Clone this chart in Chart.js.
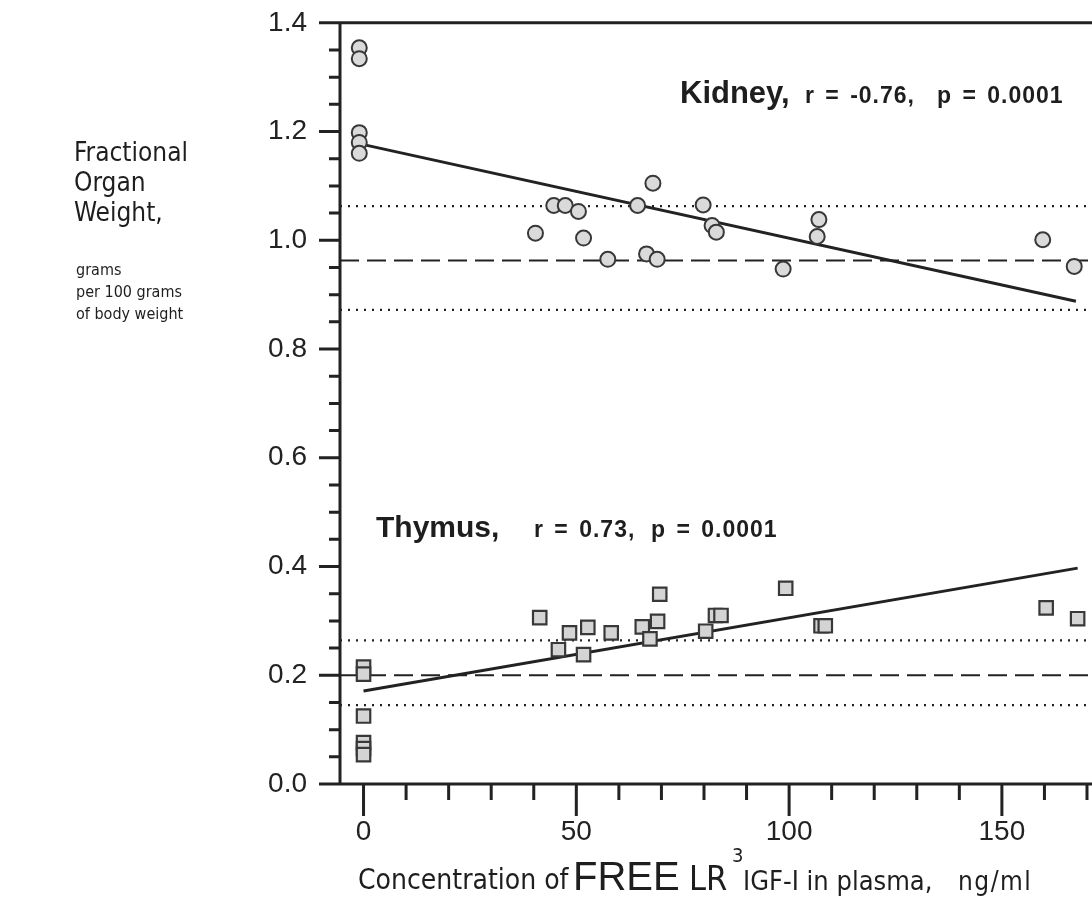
<!DOCTYPE html>
<html>
<head>
<meta charset="utf-8">
<script src="https://cdn.jsdelivr.net/npm/chart.js@4.4.1/dist/chart.umd.min.js"></script>
<style>
  html, body { margin: 0; padding: 0; background: #fff; }
  #wrap { position: relative; width: 1092px; height: 918px; overflow: hidden; }
  /* canvas a bit larger than the page: the scales keep a margin top/right of the plot */
  #grafico { position: absolute; left: 0; top: -27px; }
  .t { position: absolute; white-space: nowrap; color: #1e1e1e; line-height: 1; }
  .narrow { font-family: "Liberation Sans Narrow", "DejaVu Sans Condensed", "Liberation Sans", sans-serif; }
  .sans { font-family: "Liberation Sans", Arial, sans-serif; }
  .bold { font-family: "Liberation Sans", Arial, sans-serif; font-weight: bold; }
  .stat { font-size: 23px; letter-spacing: 1px; word-spacing: 3px; }
</style>
</head>
<body>
<div id="wrap">
  <canvas id="grafico" width="1118" height="945"></canvas>

  <!-- Y axis label -->
  <div class="t narrow" style="left:74px; top:137px; font-size:26px; line-height:30px;">Fractional<br>Organ<br>Weight,</div>
  <div class="t narrow" style="left:76px; top:259px; font-size:16px; line-height:22px;">grams<br>per 100 grams<br>of body weight</div>

  <!-- Annotations -->
  <div class="t bold" style="left:680px; top:77px; font-size:31px;">Kidney,</div>
  <div class="t bold stat" style="left:805px; top:84px;">r = -0.76,</div>
  <div class="t bold stat" style="left:937px; top:84px;">p = 0.0001</div>
  <div class="t bold" style="left:376px; top:512px; font-size:30px;">Thymus,</div>
  <div class="t bold stat" style="left:534px; top:518px;">r = 0.73,</div>
  <div class="t bold stat" style="left:651px; top:518px;">p = 0.0001</div>

  <!-- X axis title, pieces share the baseline y = 890 -->
  <div class="t narrow" style="left:358px; top:866px; font-size:28px;">Concentration of</div>
  <div class="t sans"   style="left:573px; top:856px; font-size:40px;">FREE</div>
  <div class="t narrow" style="left:689px; top:861px; font-size:34px;">LR</div>
  <div class="t narrow" style="left:732px; top:845px; font-size:20px;">3</div>
  <div class="t narrow" style="left:743px; top:867px; font-size:27px;">IGF-I in plasma,</div>
  <div class="t narrow" style="left:958px; top:868px; font-size:26px; letter-spacing:1.5px;">ng/ml</div>
</div>

<script>
// ============================================================================
// Fractional organ weight vs. free LR3IGF-I in plasma (Kidney / Thymus)
// ============================================================================

// 1. Data
const xBounds = [-5.53, 171.4];   // axis range, ng/ml
const yBounds = [0, 1.4];         // axis range, g per 100 g

const kidneyX = [-1, -1, -1, -1, -1, 40.4, 44.7, 47.4, 50.5, 51.7, 57.4, 64.4, 66.5, 69.0, 68.0, 79.8, 81.9, 82.9, 98.6, 107.0, 106.6, 159.6, 167.0];
const kidneyY = [1.354, 1.334, 1.198, 1.180, 1.160, 1.013, 1.064, 1.064, 1.053, 1.004, 0.965, 1.064, 0.975, 0.965, 1.105, 1.065, 1.027, 1.015, 0.947, 1.038, 1.007, 1.001, 0.952];

const thymusX = [0, 0, 0, 0, 0, 0, 41.4, 45.8, 48.4, 51.7, 52.7, 58.2, 65.5, 67.3, 69.1, 69.6, 80.4, 82.7, 84.0, 99.2, 107.5, 108.5, 160.4, 167.8];
const thymusY = [0.215, 0.202, 0.125, 0.076, 0.065, 0.054, 0.306, 0.247, 0.278, 0.238, 0.288, 0.278, 0.289, 0.267, 0.299, 0.349, 0.281, 0.310, 0.310, 0.360, 0.291, 0.291, 0.324, 0.304];

// regression lines (end points)
const kidneyFitX = [0, 167.4];
const kidneyFitY = [1.176, 0.888];
const thymusFitX = [0, 167.8];
const thymusFitY = [0.171, 0.397];

// mean (dashed) and band (dotted) reference levels
const kidneyRef = { mean: 0.963, upper: 1.063, lower: 0.872 };
const thymusRef = { mean: 0.200, upper: 0.264, lower: 0.145 };

// 2. Helpers
const INK = '#222';
const pts = (xs, ys) => xs.map((x, i) => ({ x, y: ys[i] }));
const hline = v => [{ x: xBounds[0], y: v }, { x: xBounds[1], y: v }];
const esMayorY = v => Math.abs(Math.round(v * 100) % 20) === 0;
const esMayorX = v => Math.abs(Math.round(v) % 50) === 0;

const linea = (data, dash, width) => ({
    data, showLine: true, borderColor: INK, borderWidth: width, borderDash: dash,
    pointRadius: 0, pointHoverRadius: 0, fill: false, order: 2
});
const dotted = v => linea(hline(v), [2, 6], 2.2);
const dashed = v => linea(hline(v), [19, 8], 2);

// 3. Axis lines and tick marks (drawn on the library's scales)
const ejes = {
    id: 'ejes',
    afterDraw(chart) {
        const { ctx, chartArea: a, scales: { x, y } } = chart;
        const top = y.getPixelForValue(yBounds[1]), bottom = y.getPixelForValue(yBounds[0]);
        ctx.save();
        ctx.strokeStyle = INK;
        ctx.lineWidth = 3;
        ctx.beginPath();
        // vertical axis
        ctx.moveTo(a.left, top - 1.5);
        ctx.lineTo(a.left, bottom + 1.5);
        // y ticks, pointing left
        y.ticks.forEach(t => {
            const p = y.getPixelForValue(t.value);
            ctx.moveTo(a.left - (esMayorY(t.value) ? 21 : 11), p);
            ctx.lineTo(a.left, p);
        });
        // top frame line and bottom axis line
        ctx.moveTo(a.left, top); ctx.lineTo(a.right, top);
        ctx.moveTo(a.left, bottom); ctx.lineTo(a.right, bottom);
        // x ticks, pointing down
        x.ticks.forEach(t => {
            const v = Math.round(t.value);
            if (v < 0 || v % 10 !== 0) return;
            const p = x.getPixelForValue(v);
            ctx.moveTo(p, a.bottom);
            ctx.lineTo(p, a.bottom + (esMayorX(v) ? 32 : 16));
        });
        ctx.stroke();
        ctx.restore();
    }
};

// 4. Chart
const tickFont = { family: "'Liberation Sans', Arial, sans-serif", size: 28 };

new Chart(document.getElementById('grafico'), {
    type: 'scatter',
    data: {
        datasets: [
            { data: pts(kidneyX, kidneyY), pointStyle: 'circle', pointRadius: 7.5, backgroundColor: '#dadada', borderColor: '#383838', borderWidth: 2, order: 1 },
            { data: pts(thymusX, thymusY), pointStyle: 'rect', pointRadius: 9.5, backgroundColor: '#d4d4d4', borderColor: '#383838', borderWidth: 2.2, order: 1 },
            linea(pts(kidneyFitX, kidneyFitY), [], 3),
            linea(pts(thymusFitX, thymusFitY), [], 3),
            dotted(kidneyRef.upper), dashed(kidneyRef.mean), dotted(kidneyRef.lower),
            dotted(thymusRef.upper), dashed(thymusRef.mean), dotted(thymusRef.lower)
        ]
    },
    options: {
        responsive: false,
        animation: false,
        events: [],
        layout: { autoPadding: false, padding: 0 },
        plugins: { legend: { display: false }, tooltip: { enabled: false } },
        scales: {
            x: {
                type: 'linear', min: xBounds[0], max: xBounds[1],
                grid: { display: false, drawTicks: false }, border: { display: false },
                ticks: {
                    stepSize: 10, includeBounds: false, autoSkip: false, maxRotation: 0, padding: 31,
                    color: INK, font: tickFont,
                    callback: v => (Math.round(v) >= 0 && esMayorX(v)) ? String(Math.round(v)) : ''
                },
                afterFit: s => { s.height = 134; }
            },
            y: {
                type: 'linear', min: yBounds[0], max: yBounds[1],
                grid: { display: false, drawTicks: false }, border: { display: false },
                ticks: {
                    stepSize: 0.05, autoSkip: false, padding: 33,
                    color: INK, font: tickFont,
                    callback: v => esMayorY(v) ? v.toFixed(1) : ''
                },
                afterFit: s => { s.width = 340; }
            }
        }
    },
    plugins: [ejes]
});
</script>
</body>
</html>
